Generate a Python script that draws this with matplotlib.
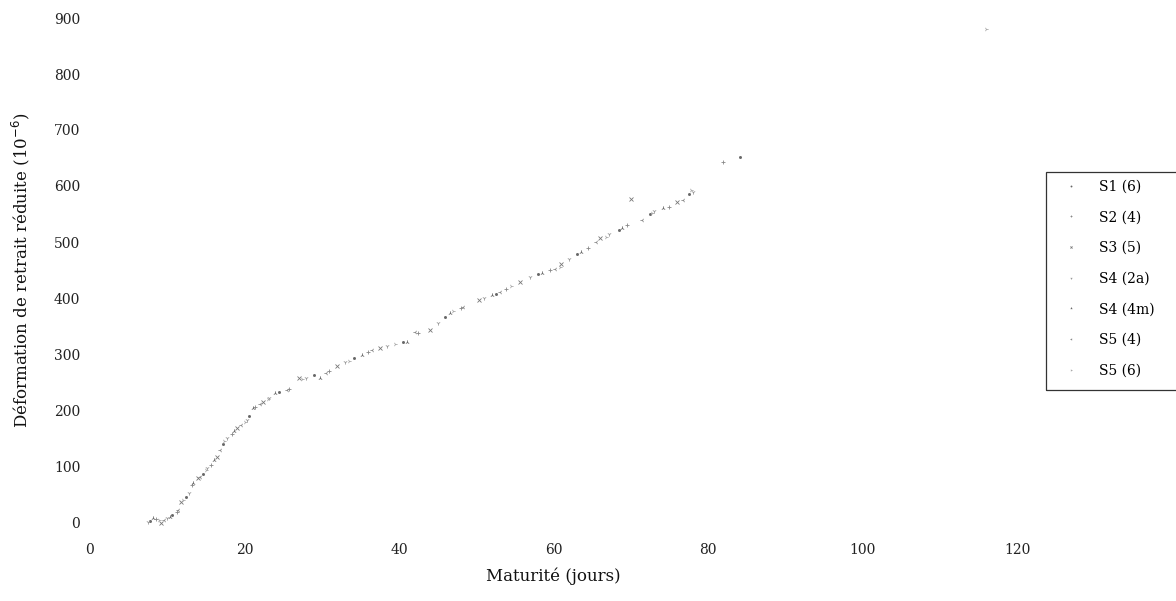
import numpy as np
import matplotlib
matplotlib.use("Agg")
import matplotlib.pyplot as plt
from matplotlib.patches import Rectangle

# readings from the scanned chart (maturity in days, shrinkage in 1e-6)
s1_x = [7.8, 10.6, 12.4, 14.6, 17.2, 20.6, 24.5, 29.0, 34.2, 40.5, 46.0, 52.5, 58.0, 63.0, 68.5, 72.5, 77.5, 84.2]
s1_y = [2, 12, 45, 86, 140, 190, 232, 262, 292, 322, 366, 408, 442, 479, 522, 550, 585, 652]

s2_x = [8.6, 11.2, 13.2, 15.6, 18.4, 21.4, 25.8, 31.0, 36.0, 42.5, 48.0, 53.8, 59.5, 64.5, 69.5, 75.0, 82.0]
s2_y = [6, 18, 66, 102, 158, 206, 238, 270, 303, 338, 382, 416, 450, 490, 530, 563, 643]

s3_x = [9.2, 11.8, 14.0, 16.4, 19.0, 22.4, 27.0, 32.0, 37.5, 44.0, 50.3, 55.7, 61.0, 66.0, 70.0, 76.0]
s3_y = [-2, 36, 78, 116, 168, 214, 257, 279, 310, 343, 396, 429, 460, 507, 577, 572]

s4a_x = [7.5, 10.0, 12.8, 15.2, 17.7, 20.3, 23.2, 28.0, 33.0, 38.5, 45.0, 51.0, 57.0, 62.0, 67.2, 73.0, 78.0]
s4a_y = [0, 8, 52, 96, 150, 182, 222, 258, 286, 315, 355, 400, 438, 470, 515, 555, 589]

s4m_x = [8.2, 10.4, 13.3, 16.0, 18.6, 21.1, 24.0, 29.8, 35.2, 41.0, 46.6, 52.0, 58.5, 63.5, 68.9, 74.2]
s4m_y = [8, 9, 70, 110, 162, 204, 230, 257, 298, 321, 373, 405, 445, 482, 525, 560]

s5a_x = [9.6, 11.4, 14.2, 16.8, 19.5, 22.0, 25.5, 30.5, 36.5, 42.1, 48.3, 53.1, 60.2, 65.5, 71.5, 76.8]
s5a_y = [4, 22, 80, 128, 174, 210, 236, 266, 307, 339, 384, 411, 452, 500, 540, 575]

s5b_x = [8.9, 12.0, 15.0, 17.4, 20.0, 23.0, 27.5, 33.5, 39.5, 47.0, 54.5, 60.8, 66.8, 72.8, 77.8, 116.0]
s5b_y = [3, 40, 92, 144, 178, 220, 255, 288, 318, 376, 422, 455, 509, 552, 592, 880]

labels = ["S1 (6)", "S2 (4)", "S3 (5)", "S4 (2a)", "S4 (4m)", "S5 (4)", "S5 (6)"]
xs = [s1_x, s2_x, s3_x, s4a_x, s4m_x, s5a_x, s5b_x]
ys = [s1_y, s2_y, s3_y, s4a_y, s4m_y, s5a_y, s5b_y]
markers = [".", "+", "x", "1", "2", "3", "4"]
greys = ["#666666", "#888888", "#777777", "#999999", "#6a6a6a", "#8a8a8a", "#aaaaaa"]

plt.rcParams['font.family'] = ['DejaVu Serif']

fig = plt.figure(figsize=(11.76, 6.01), dpi=100)
ax = fig.add_axes([90/1176, 1 - 522/601, (1017 - 90)/1176, (522 - 18)/601])

for x, y, m, c, lab in zip(xs, ys, markers, greys, labels):
    ax.plot(x, y, linestyle="none", marker=m, markersize=3, markeredgewidth=0.6,
            color=c, label=lab, clip_on=False)

ax.set_xlim(0, 120)
ax.set_ylim(0, 900)
ax.set_xticks(np.arange(0, 121, 20))
ax.set_yticks(np.arange(0, 901, 100))
for sp in ax.spines.values():
    sp.set_visible(False)
ax.tick_params(axis="x", length=0, pad=15, labelsize=10, colors="#222222")
ax.tick_params(axis="y", length=0, pad=7, labelsize=10, colors="#222222")

ax.set_xlabel("Maturité (jours)", fontsize=12, labelpad=8, color="#111111")
ax.set_ylabel("Déformation de retrait réduite (10$^{-6}$)", fontsize=12, labelpad=16, color="#111111")

# legend box runs off the right edge in the scan, so draw the frame by hand
leg = fig.legend(loc="upper left", bbox_to_anchor=(1046/1176, 1 - 172/601),
                 fontsize=10, frameon=False, borderaxespad=0,
                 handlelength=2.5, handletextpad=0.8, labelspacing=1.2,
                 markerscale=0.5, borderpad=0.55)
fig.patches.append(Rectangle((1046/1176, 1 - 390/601), 0.2, (390 - 172)/601,
                             transform=fig.transFigure, fill=False,
                             edgecolor="#333333", linewidth=0.9))

fig.savefig("out.png", dpi=100)
